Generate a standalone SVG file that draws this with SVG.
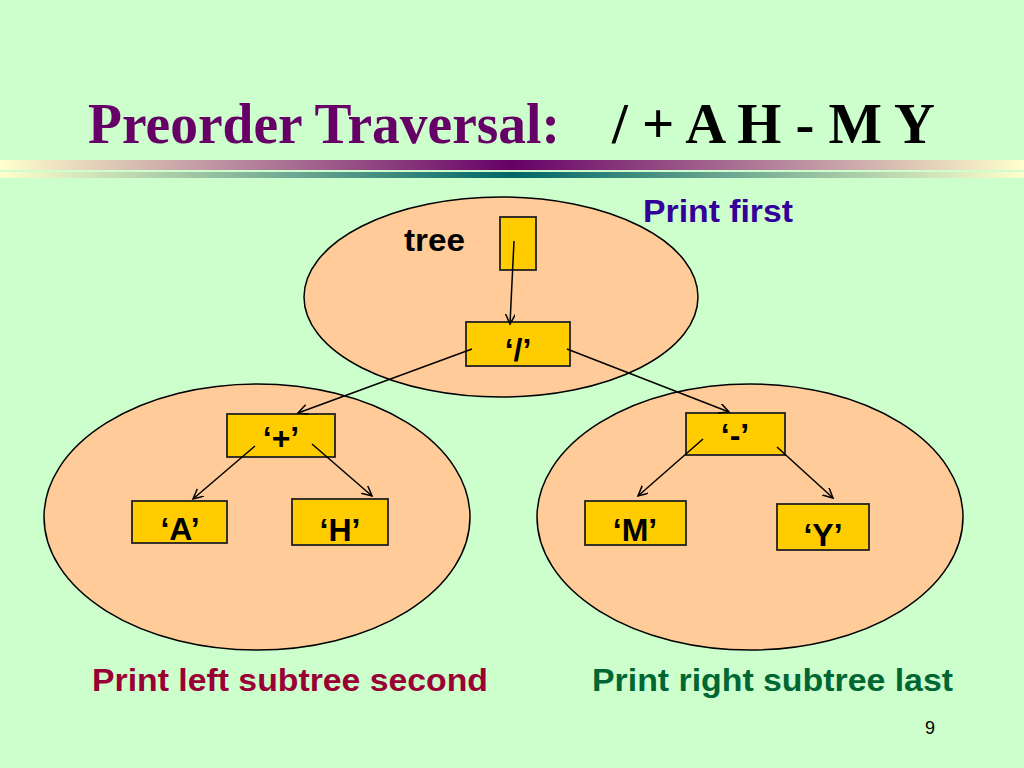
<svg xmlns="http://www.w3.org/2000/svg" width="1024" height="768" viewBox="0 0 1024 768">
<defs>
<linearGradient id="g1" x1="0" y1="0" x2="1" y2="0">
<stop offset="0" stop-color="#FFFFCC"/>
<stop offset="0.5" stop-color="#660066"/>
<stop offset="1" stop-color="#FFFFCC"/>
</linearGradient>
<linearGradient id="g2" x1="0" y1="0" x2="1" y2="0">
<stop offset="0" stop-color="#FFFFCC"/>
<stop offset="0.5" stop-color="#006666"/>
<stop offset="1" stop-color="#FFFFCC"/>
</linearGradient>
<marker id="arr" markerWidth="12" markerHeight="12" refX="10" refY="5" orient="auto" markerUnits="userSpaceOnUse">
<path d="M0,0 L10,5 L0,10" fill="none" stroke="#000" stroke-width="1.5"/>
</marker>
<style>
.sub{fill:#FFCC99;stroke:#000;stroke-width:1.5}
.box{fill:#FFCC00;stroke:#222;stroke-width:1.8}
.lbl{font-family:"Liberation Sans",Arial,sans-serif;font-weight:bold;font-size:32px;fill:#000;text-anchor:middle}
.cap{font-family:"Liberation Sans",Arial,sans-serif;font-weight:bold;font-size:31px}
.con line{stroke:#000;stroke-width:1.5;marker-end:url(#arr)}
</style>
</defs>
<rect width="1024" height="768" fill="#CCFFCC"/>
<g id="title">
<text x="88" y="143" font-family="'Liberation Serif','Times New Roman',serif" font-weight="bold" font-size="57" fill="#660066" textLength="472" lengthAdjust="spacingAndGlyphs">Preorder Traversal:</text>
<text x="612" y="143" font-family="'Liberation Serif','Times New Roman',serif" font-weight="bold" font-size="57" fill="#000" textLength="323" lengthAdjust="spacingAndGlyphs">/ + A H - M Y</text>
</g>
<rect x="0" y="160" width="1024" height="10" fill="url(#g1)"/>
<rect x="0" y="172" width="1024" height="6" fill="url(#g2)"/>
<g id="ellipses">
<ellipse class="sub" cx="501" cy="297" rx="197" ry="100"/>
<ellipse class="sub" cx="257" cy="517" rx="213" ry="133"/>
<ellipse class="sub" cx="750" cy="517" rx="213" ry="133"/>
</g>
<g id="tree">
<rect class="box" x="500" y="217" width="36" height="53"/>
<text class="cap" x="404" y="251" fill="#000" textLength="61" lengthAdjust="spacingAndGlyphs">tree</text>
</g>
<g id="n-div"><rect class="box" x="466" y="322" width="104" height="44"/><text class="lbl" x="518" y="361">‘/’</text></g>
<g id="n-plus"><rect class="box" x="227" y="414" width="108" height="43"/><text class="lbl" x="281" y="449">‘+’</text></g>
<g id="n-minus"><rect class="box" x="686" y="413" width="99" height="42"/><text class="lbl" x="735" y="446">‘-’</text></g>
<g id="n-A"><rect class="box" x="132" y="501" width="95" height="42"/><text class="lbl" x="180" y="540">‘A’</text></g>
<g id="n-H"><rect class="box" x="292" y="499" width="96" height="46"/><text class="lbl" x="340" y="541">‘H’</text></g>
<g id="n-M"><rect class="box" x="585" y="501" width="101" height="44"/><text class="lbl" x="635" y="541">‘M’</text></g>
<g id="n-Y"><rect class="box" x="777" y="504" width="92" height="46"/><text class="lbl" x="823" y="546">‘Y’</text></g>
<g id="connectors" class="con">
<line x1="514" y1="241" x2="510" y2="324"/>
<line x1="472" y1="349" x2="298" y2="413"/>
<line x1="567" y1="349" x2="729" y2="412"/>
<line x1="255" y1="446" x2="193" y2="499"/>
<line x1="312" y1="444" x2="372" y2="496"/>
<line x1="703" y1="439" x2="638" y2="496"/>
<line x1="777" y1="447" x2="833" y2="498"/>
</g>
<g id="captions">
<text class="cap" x="643" y="222" fill="#330099" textLength="150" lengthAdjust="spacingAndGlyphs">Print first</text>
<text class="cap" x="92" y="691" fill="#990033" textLength="396" lengthAdjust="spacingAndGlyphs">Print left subtree second</text>
<text class="cap" x="592" y="691" fill="#006633" textLength="361" lengthAdjust="spacingAndGlyphs">Print right subtree last</text>
<text x="930" y="734" font-family="'Liberation Sans',Arial,sans-serif" font-size="18" fill="#000" text-anchor="middle">9</text>
</g>
</svg>
